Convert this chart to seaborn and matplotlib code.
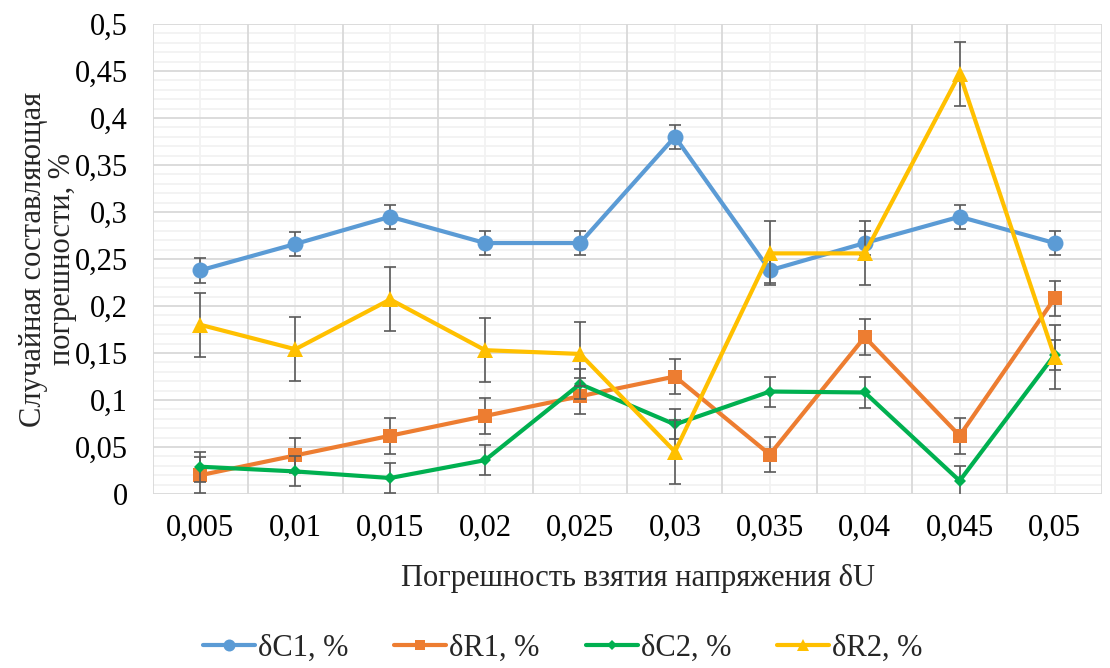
import copy
import numpy as np
import pandas as pd
import matplotlib
matplotlib.use("Agg")
import matplotlib.pyplot as plt
from matplotlib.ticker import MultipleLocator, FuncFormatter
import seaborn as sns

# Data
categories = ["0,005", "0,01", "0,015", "0,02", "0,025", "0,03", "0,035", "0,04", "0,045", "0,05"]
dC1 = [0.238, 0.266, 0.295, 0.267, 0.267, 0.380, 0.238, 0.267, 0.295, 0.267]
dR1 = [0.020, 0.041, 0.062, 0.083, 0.104, 0.125, 0.042, 0.167, 0.062, 0.208]
dC2 = [0.029, 0.024, 0.017, 0.036, 0.117, 0.074, 0.109, 0.108, 0.014, 0.148]
dR2 = [0.180, 0.154, 0.207, 0.153, 0.149, 0.045, 0.256, 0.256, 0.447, 0.146]
err_C1 = 0.013
err_R1 = 0.019
err_C2 = 0.016
err_R2 = 0.034
series_names = ["δC1, %", "δR1, %", "δC2, %", "δR2, %"]

x = np.arange(len(categories))
series = [
    (series_names[0], dC1, err_C1, "#5B9BD5", "o", 11.5),
    (series_names[1], dR1, err_R1, "#ED7D31", "s", 10.5),
    (series_names[2], dC2, err_C2, "#00B050", "D", 6.5),
    (series_names[3], dR2, err_R2, "#FFC000", "^", 12.0),
]

sns.set_theme(style="white")
plt.rcParams["font.family"] = ["Liberation Serif", "DejaVu Serif"]

fig = plt.figure(figsize=(11.1, 6.68), dpi=100)
ax = fig.add_axes([0.1378, 0.2605, 0.855, 0.7035])

z = 3
for name, vals, err, color, marker, ms in series:
    df = pd.DataFrame({"x": x, "y": vals})
    ax.errorbar(x, vals, yerr=err, fmt="none", ecolor="#595959",
                elinewidth=1.2, capsize=4.3, capthick=1.2, zorder=z)
    sns.lineplot(data=df, x="x", y="y", ax=ax, color=color, linewidth=3.0,
                 marker=marker, markersize=ms, markeredgecolor=color,
                 markeredgewidth=0, label=name, sort=False, zorder=z + 0.5)
    z += 1

# Axes limits and ticks
ax.set_xlim(-0.5, len(categories) - 0.5)
ax.set_ylim(0, 0.5)
ax.set_xticks(x)
ax.set_xticklabels(categories)
ax.yaxis.set_major_locator(MultipleLocator(0.05))
ax.yaxis.set_major_formatter(FuncFormatter(
    lambda v, p: ("%.2f" % v).rstrip("0").rstrip(".").replace(".", ",") if v != 0 else "0"))

ax.tick_params(axis="both", which="both", length=0, labelsize=22, colors="black")
ax.tick_params(axis="y", pad=18)
ax.tick_params(axis="x", pad=14)

# Gridlines: darker at major y and category boundaries, light at minor y and category centers
ax.grid(False)
for v in np.arange(0, 0.5001, 0.05):
    ax.axhline(v, color="#D9D9D9", lw=1.3, zorder=1)
for v in np.arange(0.01, 0.5, 0.01):
    if abs(v / 0.05 - round(v / 0.05)) > 1e-6:
        ax.axhline(v, color="#F2F2F2", lw=1.3, zorder=0.5)
for v in np.arange(-0.5, len(categories), 1.0):
    ax.axvline(v, color="#D9D9D9", lw=1.3, zorder=1)
for v in x:
    ax.axvline(v, color="#F2F2F2", lw=1.3, zorder=0.5)
for s in ax.spines.values():
    s.set_visible(False)

ax.set_xlabel("Погрешность взятия напряжения δU", fontsize=22)
ax.xaxis.set_label_coords(0.511, -0.148)
ax.set_ylabel("Случайная составляющая\nпогрешности, %", fontsize=22, linespacing=1.0)
ax.yaxis.set_label_coords(-0.08, 0.5)

ax.get_legend().remove()
handles, labels = ax.get_legend_handles_labels()
leg_handles = []
for h in handles:
    hc = copy.copy(h)
    hc.set_markersize(h.get_markersize() * 0.75)
    leg_handles.append(hc)
fig.legend(leg_handles, labels, loc="lower center", bbox_to_anchor=(0.507, -0.033), ncol=4,
           frameon=False, fontsize=22, handlelength=1.7, handletextpad=0.1,
           columnspacing=1.5)

fig.savefig("out.png", dpi=100)
